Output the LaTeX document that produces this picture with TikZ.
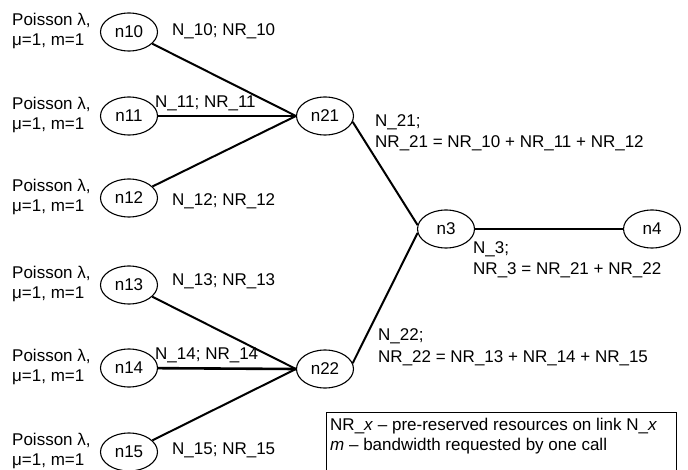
\documentclass[tikz,border=0pt]{standalone}
\usepackage{fontspec}
\setmainfont{Liberation Sans}
\usetikzlibrary{shapes.geometric}
\tikzset{
  nd/.style={ellipse, draw, line width=1.1pt, minimum width=57pt, minimum height=38pt, inner sep=0pt},
  lnk/.style={line width=2pt},
  lbl/.style={anchor=base west, inner sep=0pt},
  src/.style={anchor=west, inner sep=0pt, align=left},
}
\begin{document}
\begin{tikzpicture}[x=1pt, y=-1pt, font=\fontsize{17}{20}\selectfont]
\useasboundingbox (0,0) rectangle (688,470);

% access nodes
\node[nd] (n10) at (129,32)  {n10};
\node[nd] (n11) at (129,116) {n11};
\node[nd] (n12) at (129,198) {n12};
\node[nd] (n13) at (129,285) {n13};
\node[nd] (n14) at (129,368) {n14};
\node[nd] (n15) at (129,452) {n15};
% aggregation and core nodes
\node[nd] (n21) at (325,116) {n21};
\node[nd] (n22) at (325,369) {n22};
\node[nd] (n3)  at (446,229) {n3};
\node[nd] (n4)  at (652,229) {n4};

% traffic sources
\foreach \n/\y in {10/32, 11/116, 12/198, 13/285, 14/368, 15/452}
  \node[src] (p\n) at (12,\y-1) {Poisson λ,\\μ=1, m=1};

% links
\draw[lnk] (n10) -- (n21.west);
\draw[lnk, line width=2.6pt] (n11) -- (n21.west);
\draw[lnk] (n12) -- (n21.west);
\draw[lnk] (n13) -- (n22.west);
\draw[lnk, line width=2.6pt] (n14) -- (n22.west);
\draw[lnk] (n15) -- (n22.west);
\draw[lnk] (n21.-12) -- (n3.172);
\draw[lnk] (n22.12) -- (n3.188);
\draw[lnk] (n3) -- (n4);

% link labels
\node[lbl] (l10) at (172,36)  {N\_10; NR\_10};
\node[lbl] (l11) at (155,108) {N\_11; NR\_11};
\node[lbl] (l12) at (172,206) {N\_12; NR\_12};
\node[lbl] (l13) at (172,286) {N\_13; NR\_13};
\node[lbl] (l14) at (155,359) {N\_14; NR\_14};
\node[lbl] (l15) at (172,454) {N\_15; NR\_15};
\node[lbl] (l21a) at (375,127) {N\_21;};
\node[lbl] (l21b) at (375,148) {NR\_21 = NR\_10 + NR\_11 + NR\_12};
\node[lbl] (l22a) at (378,340) {N\_22;};
\node[lbl] (l22b) at (378,362) {NR\_22 = NR\_13 + NR\_14 + NR\_15};
\node[lbl] (l3a) at (473,254) {N\_3;};
\node[lbl] (l3b) at (473,275) {NR\_3 = NR\_21 + NR\_22};

% legend
\draw[line width=1pt] (326,474) -- (326,412) -- (676,412) -- (676,474);
\node[lbl] (lg1) at (330,430) {NR\_\textit{x} – pre-reserved resources on link N\_\textit{x}};
\node[lbl] (lg2) at (330,450) {\textit{m} – bandwidth requested by one call};
\end{tikzpicture}
\end{document}
